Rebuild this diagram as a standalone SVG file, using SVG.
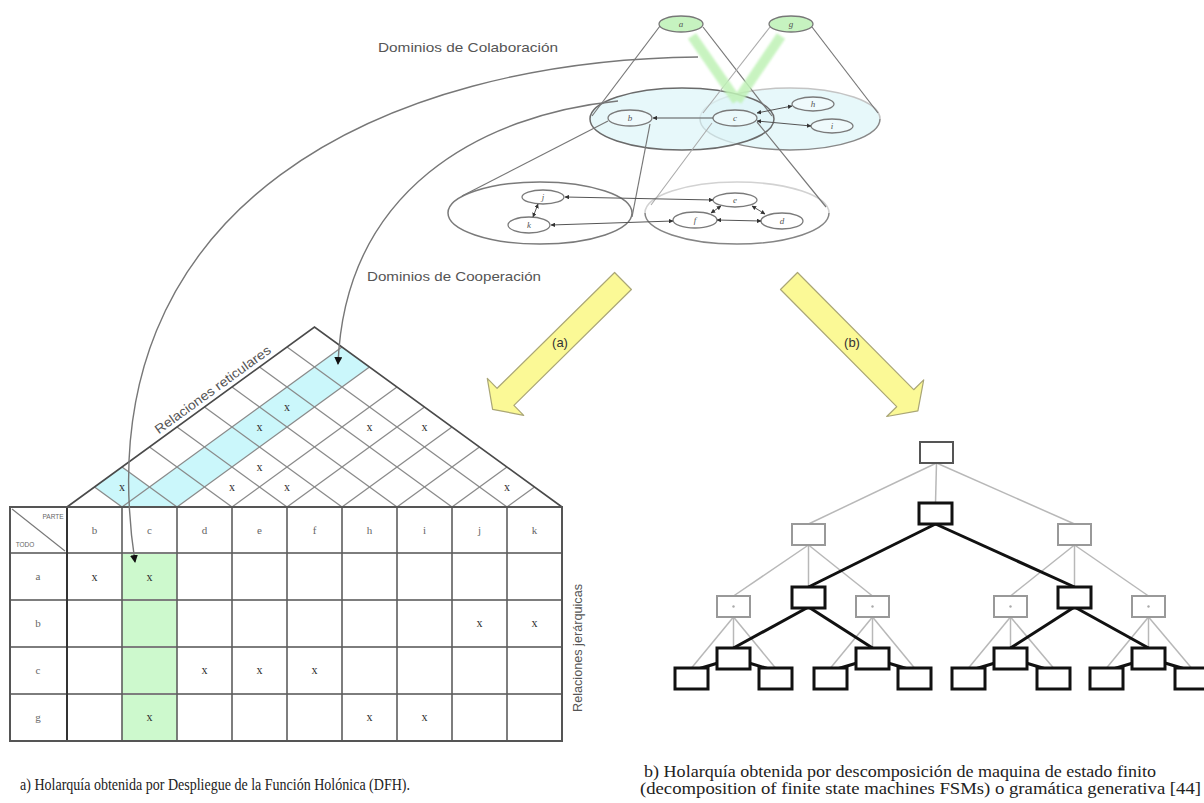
<svg xmlns="http://www.w3.org/2000/svg" width="1204" height="803" viewBox="0 0 1204 803">
  <defs>
    <style>
      .lbl{font-family:"Liberation Sans",Arial,sans-serif;font-size:13px;fill:#555}
      .nd{fill:#fff;fill-opacity:0.35;stroke:#7a7a7a;stroke-width:1.3}
      .nt{font-family:"Liberation Serif",serif;font-style:italic;font-size:9px;fill:#555;text-anchor:middle}
      .edge{stroke:#555;stroke-width:1;fill:none}
      .cone{stroke:#777;stroke-width:1.2;fill:none}
      .conel{stroke:#aaa;stroke-width:1.1;fill:none}
      .lat{stroke:#8a8a8a;stroke-width:1.3;fill:none}
      .xm{font-family:"Liberation Serif",serif;font-size:12px;fill:#333;text-anchor:middle}
      .th{font-family:"Liberation Serif",serif;font-size:11px;fill:#666;text-anchor:middle}
      .tg{fill:#fff;stroke:#999;stroke-width:2}
      .tk{fill:#fff;stroke:#111;stroke-width:3}
      .lg{stroke:#b8b8b8;stroke-width:1.5;fill:none}
      .lk{stroke:#111;stroke-width:3;fill:none}
      .cap{font-family:"Liberation Serif",serif;font-size:16px;fill:#222}
      .yel{fill:#fbf996;stroke:#aaa676;stroke-width:1.2;stroke-linejoin:round}
      .dom{fill:#dff6f8;fill-opacity:0.75}
    </style>
    <marker id="arcHead" viewBox="0 0 8 8" refX="7" refY="4" markerWidth="8" markerHeight="8" markerUnits="userSpaceOnUse" orient="auto">
      <path d="M0,0 L8,4 L0,8 z" fill="#111"/>
    </marker>
    <marker id="tip" viewBox="0 0 6 6" refX="5.5" refY="3" markerWidth="4.5" markerHeight="4.5" markerUnits="userSpaceOnUse" orient="auto-start-reverse">
      <path d="M0,0 L6,3 L0,6 z" fill="#333"/>
    </marker>
    <filter id="soft" x="-20%" y="-20%" width="140%" height="140%">
      <feGaussianBlur stdDeviation="1"/>
    </filter>
  </defs>

  <rect width="1204" height="803" fill="#fff"/>

  <!-- domain ellipses of the upper holarchy -->
  <g id="domains">
    <ellipse id="dom-g" class="dom" cx="790" cy="119" rx="90" ry="31"/>
    <path d="M700,119 A90,31 0 0 1 880,119" fill="none" stroke="#c4c4c4" stroke-width="1.6"/>
    <path d="M700,119 A90,31 0 0 0 880,119" fill="none" stroke="#888" stroke-width="1.5"/>
    <ellipse id="dom-a" class="dom" cx="682" cy="119" rx="92" ry="31" stroke="#6a6a6a" stroke-width="1.5"/>
    <ellipse id="dom-b" cx="540" cy="213" rx="92" ry="31" fill="none" stroke="#7a7a7a" stroke-width="1.5"/>
    <path d="M645,213 A92,31 0 0 1 829,213" fill="none" stroke="#d2d2d2" stroke-width="1.6"/>
    <path d="M645,213 A92,31 0 0 0 829,213" fill="none" stroke="#858585" stroke-width="1.5"/>
  </g>

  <!-- cones linking each holon to its domain -->
  <g id="cones">
    <line class="cone" x1="660" y1="26" x2="592" y2="116"/>
    <line class="cone" x1="703" y1="27" x2="772" y2="116"/>
    <line class="conel" x1="770" y1="27" x2="703" y2="113"/>
    <line class="cone" x1="812" y1="27" x2="878" y2="113"/>
    <line class="cone" x1="608" y1="121" x2="462" y2="196"/>
    <line class="cone" x1="650" y1="124" x2="632" y2="217"/>
    <line class="conel" x1="712" y1="123" x2="651" y2="205"/>
    <line class="cone" x1="757" y1="122" x2="826" y2="207"/>
  </g>

  <!-- green links from a and g down to c -->
  <g id="links" filter="url(#soft)" opacity="0.85">
    <line x1="692" y1="36" x2="737" y2="101" stroke="#bff2b6" stroke-width="10"/>
    <line x1="781" y1="36" x2="737" y2="101" stroke="#bff2b6" stroke-width="10"/>
  </g>

  <!-- holon nodes -->
  <g id="node-a"><ellipse cx="681" cy="24" rx="22" ry="8" fill="#c6f3c0" stroke="#777" stroke-width="1.3"/><text class="nt" x="681" y="27">a</text></g>
  <g id="node-g"><ellipse cx="791" cy="24" rx="22" ry="8" fill="#c6f3c0" stroke="#777" stroke-width="1.3"/><text class="nt" x="791" y="27">g</text></g>
  <g id="node-b"><ellipse class="nd" cx="630" cy="118" rx="22" ry="8"/><text class="nt" x="630" y="121">b</text></g>
  <g id="node-c"><ellipse class="nd" cx="735" cy="118" rx="22" ry="8" stroke="#222" stroke-width="2.2"/><text class="nt" x="735" y="121">c</text></g>
  <g id="node-h"><ellipse class="nd" cx="813" cy="104" rx="21" ry="7"/><text class="nt" x="813" y="107">h</text></g>
  <g id="node-i"><ellipse class="nd" cx="832" cy="126" rx="21" ry="7"/><text class="nt" x="832" y="129">i</text></g>
  <g id="node-j"><ellipse class="nd" cx="543" cy="197" rx="21" ry="7"/><text class="nt" x="543" y="200">j</text></g>
  <g id="node-k"><ellipse class="nd" cx="529" cy="225" rx="21" ry="8"/><text class="nt" x="529" y="228">k</text></g>
  <g id="node-e"><ellipse class="nd" cx="735" cy="200" rx="22" ry="7"/><text class="nt" x="735" y="203">e</text></g>
  <g id="node-f"><ellipse class="nd" cx="695" cy="220" rx="22" ry="8"/><text class="nt" x="695" y="223">f</text></g>
  <g id="node-d"><ellipse class="nd" cx="782" cy="221" rx="21" ry="8"/><text class="nt" x="782" y="224">d</text></g>

  <!-- labels -->
  <text class="lbl" x="378" y="52" textLength="180" lengthAdjust="spacingAndGlyphs">Dominios de Colaboración</text>
  <text class="lbl" x="367" y="281" textLength="174" lengthAdjust="spacingAndGlyphs">Dominios de Cooperación</text>

  <!-- lattice (reticular relations) above the table -->
  <g id="lattice">
    <polygon points="122,507 177,507 369.5,367 342,347" fill="#cbf7fb"/>
    <polygon points="122,507 94.5,487 122,467 149.5,487" fill="#cbf7fb"/>
    <g class="lat">
      <line x1="122" y1="507" x2="342" y2="347"/>
      <line x1="177" y1="507" x2="369.5" y2="367"/>
      <line x1="232" y1="507" x2="397" y2="387"/>
      <line x1="287" y1="507" x2="424.5" y2="407"/>
      <line x1="342" y1="507" x2="452" y2="427"/>
      <line x1="397" y1="507" x2="479.5" y2="447"/>
      <line x1="452" y1="507" x2="507" y2="467"/>
      <line x1="507" y1="507" x2="534.5" y2="487"/>
      <line x1="122" y1="507" x2="94.5" y2="487"/>
      <line x1="177" y1="507" x2="122" y2="467"/>
      <line x1="232" y1="507" x2="149.5" y2="447"/>
      <line x1="287" y1="507" x2="177" y2="427"/>
      <line x1="342" y1="507" x2="204.5" y2="407"/>
      <line x1="397" y1="507" x2="232" y2="387"/>
      <line x1="452" y1="507" x2="259.5" y2="367"/>
      <line x1="507" y1="507" x2="287" y2="347"/>
    </g>
    <path d="M67,507 L314.5,327 L562,507" fill="none" stroke="#4a4a4a" stroke-width="1.6"/>
    <g>
      <text class="xm" x="122" y="491">x</text>
      <text class="xm" x="259.5" y="431">x</text>
      <text class="xm" x="287" y="411">x</text>
      <text class="xm" x="369.5" y="431">x</text>
      <text class="xm" x="424.5" y="431">x</text>
      <text class="xm" x="259.5" y="471">x</text>
      <text class="xm" x="232" y="491">x</text>
      <text class="xm" x="287" y="491">x</text>
      <text class="xm" x="507" y="491">x</text>
    </g>
    <text class="lbl" transform="translate(213,390) rotate(-36)" text-anchor="middle" y="4" font-size="12" textLength="140" lengthAdjust="spacingAndGlyphs">Relaciones reticulares</text>
  </g>

  <!-- part / whole table (hierarchical relations) -->
  <g id="table">
    <rect x="122" y="553" width="55" height="188" fill="#cdf9cd"/>
    <g stroke="#7d7d7d" stroke-width="2">
      <line x1="10" y1="553" x2="562" y2="553"/>
      <line x1="10" y1="600" x2="562" y2="600"/>
      <line x1="10" y1="647" x2="562" y2="647"/>
      <line x1="10" y1="694" x2="562" y2="694"/>
    </g>
    <g stroke="#5e5e5e" stroke-width="1.6">
      <line x1="122" y1="507" x2="122" y2="741"/>
      <line x1="177" y1="507" x2="177" y2="741"/>
      <line x1="232" y1="507" x2="232" y2="741"/>
      <line x1="287" y1="507" x2="287" y2="741"/>
      <line x1="342" y1="507" x2="342" y2="741"/>
      <line x1="397" y1="507" x2="397" y2="741"/>
      <line x1="452" y1="507" x2="452" y2="741"/>
      <line x1="507" y1="507" x2="507" y2="741"/>
    </g>
    <line x1="67" y1="507" x2="67" y2="741" stroke="#333" stroke-width="2"/>
    <rect x="10" y="507" width="552" height="234" fill="none" stroke="#555" stroke-width="2"/>
    <line x1="12" y1="509" x2="65" y2="551" stroke="#777" stroke-width="1.1"/>
    <text x="53" y="519" font-family="'Liberation Sans',Arial,sans-serif" font-size="6.5" fill="#666" text-anchor="middle">PARTE</text>
    <text x="25" y="547" font-family="'Liberation Sans',Arial,sans-serif" font-size="6.5" fill="#666" text-anchor="middle">TODO</text>
    <g>
      <text class="th" x="94.5" y="534">b</text>
      <text class="th" x="149.5" y="534">c</text>
      <text class="th" x="204.5" y="534">d</text>
      <text class="th" x="259.5" y="534">e</text>
      <text class="th" x="314.5" y="534">f</text>
      <text class="th" x="369.5" y="534">h</text>
      <text class="th" x="424.5" y="534">i</text>
      <text class="th" x="479.5" y="534">j</text>
      <text class="th" x="534.5" y="534">k</text>
      <text class="th" x="38" y="580">a</text>
      <text class="th" x="38" y="627">b</text>
      <text class="th" x="38" y="674">c</text>
      <text class="th" x="38" y="721">g</text>
    </g>
    <g>
      <text class="xm" x="94.5" y="581">x</text>
      <text class="xm" x="149.5" y="581">x</text>
      <text class="xm" x="479.5" y="627">x</text>
      <text class="xm" x="534.5" y="627">x</text>
      <text class="xm" x="204.5" y="674">x</text>
      <text class="xm" x="259.5" y="674">x</text>
      <text class="xm" x="314.5" y="674">x</text>
      <text class="xm" x="149.5" y="721">x</text>
      <text class="xm" x="369.5" y="721">x</text>
      <text class="xm" x="424.5" y="721">x</text>
    </g>
    <text class="lbl" transform="translate(582,648) rotate(-90)" text-anchor="middle" font-size="12" textLength="128" lengthAdjust="spacingAndGlyphs">Relaciones jerárquicas</text>
  </g>

  <!-- connectors -->
  <g id="connectors">
    <path d="M698,57 C390,60 80,200 135,562" fill="none" stroke="#777" stroke-width="1.4" marker-end="url(#arcHead)"/>
    <path d="M618,101 C480,115 345,190 338,364" fill="none" stroke="#777" stroke-width="1.4" marker-end="url(#arcHead)"/>
    <line class="edge" x1="713" y1="118" x2="653" y2="118" marker-end="url(#tip)"/>
    <line class="edge" x1="757" y1="113" x2="792" y2="106" marker-start="url(#tip)" marker-end="url(#tip)"/>
    <line class="edge" x1="757" y1="121" x2="811" y2="126" marker-start="url(#tip)" marker-end="url(#tip)"/>
    <line class="edge" x1="713" y1="200" x2="565" y2="197" marker-start="url(#tip)" marker-end="url(#tip)"/>
    <line class="edge" x1="673" y1="221" x2="551" y2="225" marker-start="url(#tip)" marker-end="url(#tip)"/>
    <line class="edge" x1="538" y1="204" x2="533" y2="217" marker-start="url(#tip)" marker-end="url(#tip)"/>
    <line class="edge" x1="721" y1="206" x2="711" y2="213" marker-start="url(#tip)" marker-end="url(#tip)"/>
    <line class="edge" x1="717" y1="220" x2="761" y2="221" marker-start="url(#tip)" marker-end="url(#tip)"/>
    <line class="edge" x1="752" y1="206" x2="765" y2="214" marker-start="url(#tip)" marker-end="url(#tip)"/>

    <!-- tree links -->
    <g class="lg">
      <line x1="936.5" y1="463" x2="808.5" y2="524"/>
      <line x1="936.5" y1="463" x2="935.5" y2="503"/>
      <line x1="936.5" y1="463" x2="1074.5" y2="524"/>
      <line x1="808.5" y1="545" x2="733.5" y2="596"/>
      <line x1="808.5" y1="545" x2="808.5" y2="587"/>
      <line x1="808.5" y1="545" x2="872.5" y2="596"/>
      <line x1="1074.5" y1="545" x2="1010.5" y2="596"/>
      <line x1="1074.5" y1="545" x2="1074.5" y2="587"/>
      <line x1="1074.5" y1="545" x2="1148.5" y2="596"/>
      <line x1="733.5" y1="617" x2="691.5" y2="668"/>
      <line x1="733.5" y1="617" x2="733.5" y2="648"/>
      <line x1="733.5" y1="617" x2="775.5" y2="668"/>
      <line x1="872.5" y1="617" x2="830.5" y2="668"/>
      <line x1="872.5" y1="617" x2="872.5" y2="648"/>
      <line x1="872.5" y1="617" x2="914.5" y2="668"/>
      <line x1="1010.5" y1="617" x2="968.5" y2="668"/>
      <line x1="1010.5" y1="617" x2="1010.5" y2="648"/>
      <line x1="1010.5" y1="617" x2="1053.5" y2="668"/>
      <line x1="1148.5" y1="617" x2="1106.5" y2="668"/>
      <line x1="1148.5" y1="617" x2="1148.5" y2="648"/>
      <line x1="1148.5" y1="617" x2="1191.5" y2="668"/>
    </g>
    <g class="lk">
      <line x1="935.5" y1="524" x2="808.5" y2="587"/>
      <line x1="935.5" y1="524" x2="1074.5" y2="587"/>
      <line x1="808.5" y1="607" x2="733.5" y2="648"/>
      <line x1="808.5" y1="607" x2="872.5" y2="648"/>
      <line x1="1074.5" y1="607" x2="1010.5" y2="648"/>
      <line x1="1074.5" y1="607" x2="1148.5" y2="648"/>
      <line x1="718" y1="663" x2="698" y2="669"/>
      <line x1="749" y1="663" x2="769" y2="669"/>
      <line x1="857" y1="663" x2="837" y2="669"/>
      <line x1="888" y1="663" x2="908" y2="669"/>
      <line x1="995" y1="663" x2="975" y2="669"/>
      <line x1="1026" y1="663" x2="1046" y2="669"/>
      <line x1="1133" y1="663" x2="1113" y2="669"/>
      <line x1="1165" y1="663" x2="1185" y2="669"/>
    </g>
  </g>

  <!-- tree of the state-machine decomposition -->
  <g id="tree">
    <rect id="t-root" x="920" y="442" width="33" height="21" fill="#fff" stroke="#555" stroke-width="2"/>
    <rect id="t-1a" class="tg" x="792" y="524" width="33" height="21"/>
    <rect id="t-1b" class="tk" x="919" y="503" width="33" height="21"/>
    <rect id="t-1c" class="tg" x="1058" y="524" width="33" height="21"/>
    <g id="t-2a"><rect class="tg" x="717" y="596" width="33" height="21"/><circle cx="733.5" cy="606.5" r="1.2" fill="#aaa"/></g>
    <rect id="t-2b" class="tk" x="792" y="587" width="33" height="21"/>
    <g id="t-2c"><rect class="tg" x="856" y="596" width="33" height="21"/><circle cx="872.5" cy="606.5" r="1.2" fill="#aaa"/></g>
    <g id="t-2d"><rect class="tg" x="994" y="596" width="33" height="21"/><circle cx="1010.5" cy="606.5" r="1.2" fill="#aaa"/></g>
    <rect id="t-2e" class="tk" x="1058" y="587" width="33" height="21"/>
    <g id="t-2f"><rect class="tg" x="1132" y="596" width="33" height="21"/><circle cx="1148.5" cy="606.5" r="1.2" fill="#aaa"/></g>
    <rect id="t-3a" class="tk" x="717" y="648" width="33" height="21"/>
    <rect id="t-3b" class="tk" x="856" y="648" width="33" height="21"/>
    <rect id="t-3c" class="tk" x="994" y="648" width="33" height="21"/>
    <rect id="t-3d" class="tk" x="1132" y="648" width="33" height="21"/>
    <rect id="t-4a" class="tk" x="675" y="668" width="33" height="21"/>
    <rect id="t-4b" class="tk" x="759" y="668" width="33" height="21"/>
    <rect id="t-4c" class="tk" x="814" y="668" width="33" height="21"/>
    <rect id="t-4d" class="tk" x="898" y="668" width="33" height="21"/>
    <rect id="t-4e" class="tk" x="952" y="668" width="33" height="21"/>
    <rect id="t-4f" class="tk" x="1037" y="668" width="33" height="21"/>
    <rect id="t-4g" class="tk" x="1090" y="668" width="33" height="21"/>
    <rect id="t-4h" class="tk" x="1175" y="668" width="33" height="21"/>
  </g>

  <!-- the two transformation arrows -->
  <g id="arrow-a">
    <polygon class="yel" points="614.6,272.5 631.4,289.5 513.9,405.4 523.7,415.3 492.6,409.4 487.3,378.3 497.1,388.3"/>
    <text x="560" y="347" font-family="'Liberation Sans',Arial,sans-serif" font-size="13" fill="#333" text-anchor="middle">(a)</text>
  </g>
  <g id="arrow-b">
    <polygon class="yel" points="797.5,272.5 780.5,289.5 896.7,406.7 886.7,416.5 917.9,410.9 923.7,379.9 913.7,389.7"/>
    <text x="852" y="347" font-family="'Liberation Sans',Arial,sans-serif" font-size="13" fill="#333" text-anchor="middle">(b)</text>
  </g>

  <!-- captions -->
  <text class="cap" x="20" y="790" textLength="390" lengthAdjust="spacingAndGlyphs">a) Holarquía obtenida por Despliegue de la Función Holónica (DFH).</text>
  <text class="cap" x="644" y="777" textLength="512" lengthAdjust="spacingAndGlyphs">b) Holarquía obtenida por descomposición de maquina de estado finito</text>
  <text class="cap" x="640" y="794" textLength="561" lengthAdjust="spacingAndGlyphs">(decomposition of finite state machines FSMs) o gramática generativa [44]</text>
</svg>
